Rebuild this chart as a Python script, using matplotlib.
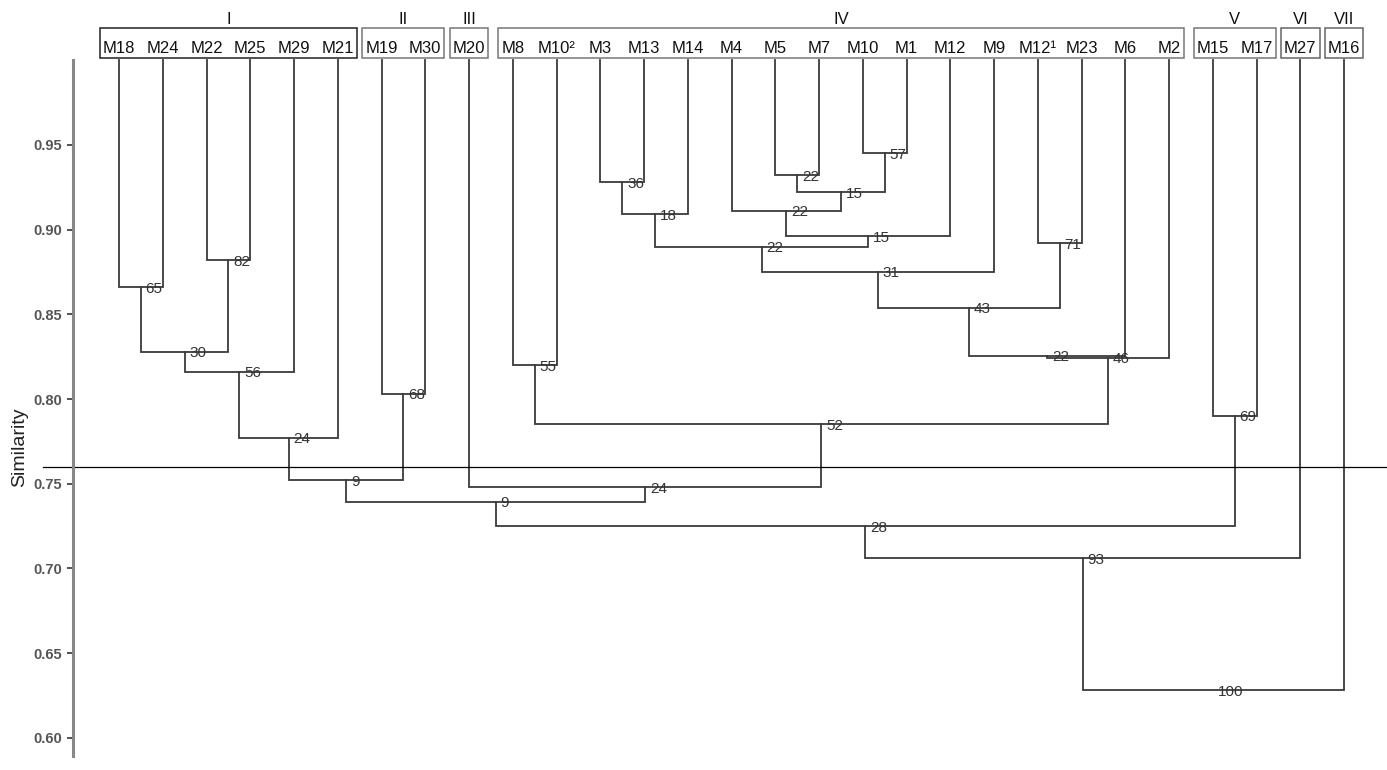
import matplotlib
matplotlib.use('Agg')
import matplotlib.pyplot as plt
from matplotlib.patches import Rectangle

plt.rcParams['font.family'] = ['Liberation Sans', 'DejaVu Sans']

# leaf order, left to right
leaves = ['M18', 'M24', 'M22', 'M25', 'M29', 'M21', 'M19', 'M30', 'M20',
          'M8', 'M10²', 'M3', 'M13', 'M14', 'M4', 'M5', 'M7', 'M10', 'M1',
          'M12', 'M9', 'M12¹', 'M23', 'M6', 'M2', 'M15', 'M17', 'M27', 'M16']

# merges: left child, right child, similarity, bootstrap ("mK" = merge K)
merges = [
    ('M18', 'M24', 0.866, 65),
    ('M22', 'M25', 0.882, 82),
    ('m0', 'm1', 0.828, 30),
    ('m2', 'M29', 0.816, 56),
    ('m3', 'M21', 0.777, 24),
    ('M19', 'M30', 0.803, 68),
    ('m4', 'm5', 0.752, 9),
    ('M8', 'M10²', 0.820, 55),
    ('M3', 'M13', 0.928, 36),
    ('m8', 'M14', 0.909, 18),
    ('M5', 'M7', 0.932, 22),
    ('M10', 'M1', 0.945, 57),
    ('m10', 'm11', 0.922, 15),
    ('M4', 'm12', 0.911, 22),
    ('m13', 'M12', 0.896, 15),
    ('m9', 'm14', 0.890, 22),
    ('m15', 'M9', 0.875, 31),
    ('M12¹', 'M23', 0.892, 71),
    ('m16', 'm17', 0.854, 43),
    ('m18', 'M6', 0.8255, 22),
    ('m19', 'M2', 0.8245, 46),
    ('m7', 'm20', 0.785, 52),
    ('M20', 'm21', 0.748, 24),
    ('m6', 'm22', 0.7395, 9),
    ('M15', 'M17', 0.790, 69),
    ('m23', 'm24', 0.725, 28),
    ('m25', 'M27', 0.706, 93),
    ('m26', 'M16', 0.628, 100),
]

group_names = ['I', 'II', 'III', 'IV', 'V', 'VI', 'VII']
group_sizes = [6, 2, 1, 16, 2, 1, 1]
group_edge = ['#222222', '#777777', '#777777', '#777777', '#777777', '#666666', '#666666']

leaf_top = 1.0
cut = 0.76
yticks = [0.60, 0.65, 0.70, 0.75, 0.80, 0.85, 0.90, 0.95]

fig = plt.figure(figsize=(13.87, 7.70), dpi=100)
ax = fig.add_axes([0, 0, 1, 1])
ax.set_xlim(-2.72, 28.98)
ax.set_ylim(0.581, 1.0356)

line_c = '#3a3a3a'
pos = {n: i for i, n in enumerate(leaves)}
ht = {n: leaf_top for n in leaves}
for k, (a, b, h, boot) in enumerate(merges):
    xa, xb = pos[a], pos[b]
    ax.plot([xa, xa, xb, xb], [ht[a], h, h, ht[b]], color=line_c, lw=1.3,
            solid_joinstyle='miter')
    key = 'm%d' % k
    pos[key] = (xa + xb) / 2
    ht[key] = h
    ax.annotate(str(boot), (pos[key], h), xytext=(3.5, -3.9),
                textcoords='offset points', ha='left', va='baseline',
                fontsize=11, color='#333333')

# cut line
ax.axhline(cut, xmin=0.031, xmax=1, color='black', lw=0.9)

# leaf labels
texts = []
for i, n in enumerate(leaves):
    t = ax.text(i, 1.0043, n, ha='center', va='baseline', fontsize=12,
                color='#111111')
    texts.append(t)

fig.canvas.draw()
r = fig.canvas.get_renderer()
inv = ax.transData.inverted()
start = 0
for g, size, ec in zip(group_names, group_sizes, group_edge):
    bbs = [texts[j].get_window_extent(r) for j in range(start, start + size)]
    x0 = min(bb.x0 for bb in bbs) - 3
    x1 = max(bb.x1 for bb in bbs) + 3
    dx0 = inv.transform((x0, 0))[0]
    dx1 = inv.transform((x1, 0))[0]
    ax.add_patch(Rectangle((dx0, 1.0013), dx1 - dx0, 0.0180, fill=False,
                           edgecolor=ec, lw=1.1))
    ax.text((dx0 + dx1) / 2, 1.0215, g, ha='center', va='baseline',
            fontsize=12, color='#111111')
    start += size

# y axis
for s in ['top', 'right', 'bottom']:
    ax.spines[s].set_visible(False)
ax.spines['left'].set_position(('data', -1.051))
ax.spines['left'].set_bounds(0.589, 1.0)
ax.spines['left'].set_color('#888888')
ax.spines['left'].set_linewidth(2.2)
ax.set_xticks([])
ax.set_yticks(yticks)
ax.set_yticklabels(['%.2f' % v for v in yticks])
ax.tick_params(axis='y', direction='out', length=4, width=1.3, color='#444444',
               pad=4, labelsize=10.5, labelcolor='#555555')
for lab in ax.get_yticklabels():
    lab.set_fontweight('bold')

fig.text(20 / 1387, 1 - 447 / 770, 'Similarity', rotation=90, ha='center',
         va='center', fontsize=14, color='#222222')

fig.savefig('out.png', dpi=100)
